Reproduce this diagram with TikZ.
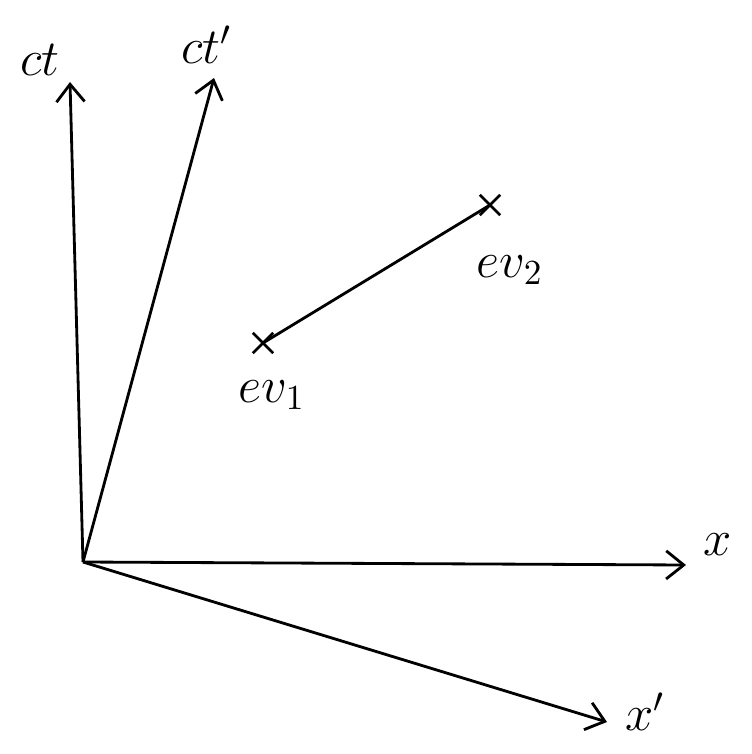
\documentclass[tikz,border=0pt]{standalone}
\usepackage{amsmath, amssymb}
\usepackage{tikz}
\usetikzlibrary{arrows.meta, positioning, calc, shapes.misc}

\begin{document}
\begin{tikzpicture}[>={Straight Barb[length=5pt,width=8pt]}, thick, x=0.01cm, y=-0.01cm]
        \tikzset{event/.style={cross out, draw, thick, minimum size=5pt, inner sep=0pt},
                 lbl/.style={font=\Large}}
        \useasboundingbox (0,0) rectangle (752,754);

        % Origin and axis ends
        \coordinate (O) at (83,562);
        \coordinate (ctend) at (70,82);
        \coordinate (ctpend) at (214,78);
        \coordinate (xend) at (686,565);
        \coordinate (xpend) at (607,722);

        % Unprimed axes
        \draw [->] (O) -- (ctend);
        \draw [->] (O) -- (xend);
        \node[lbl] (ct) at (40,60) {$ct$};
        \node[lbl] (x) at (718,545) {$x$};

        % Primed axes
        \draw [->] (O) -- (ctpend);
        \draw [->] (O) -- (xpend);
        \node[lbl] (ctp) at (207,45) {$ct'$};
        \node[lbl] (xp) at (645,712) {$x'$};

        % Events
        \node[event] (ev1) at (263,343) {};
        \node[event] (ev2) at (490,205) {};
        \draw (ev1.center) -- (ev2.center);
        \node[lbl] (ev1l) at (272,395) {$ev_1$};
        \node[lbl] (ev2l) at (510,270) {$ev_2$};
\end{tikzpicture}
\end{document}
